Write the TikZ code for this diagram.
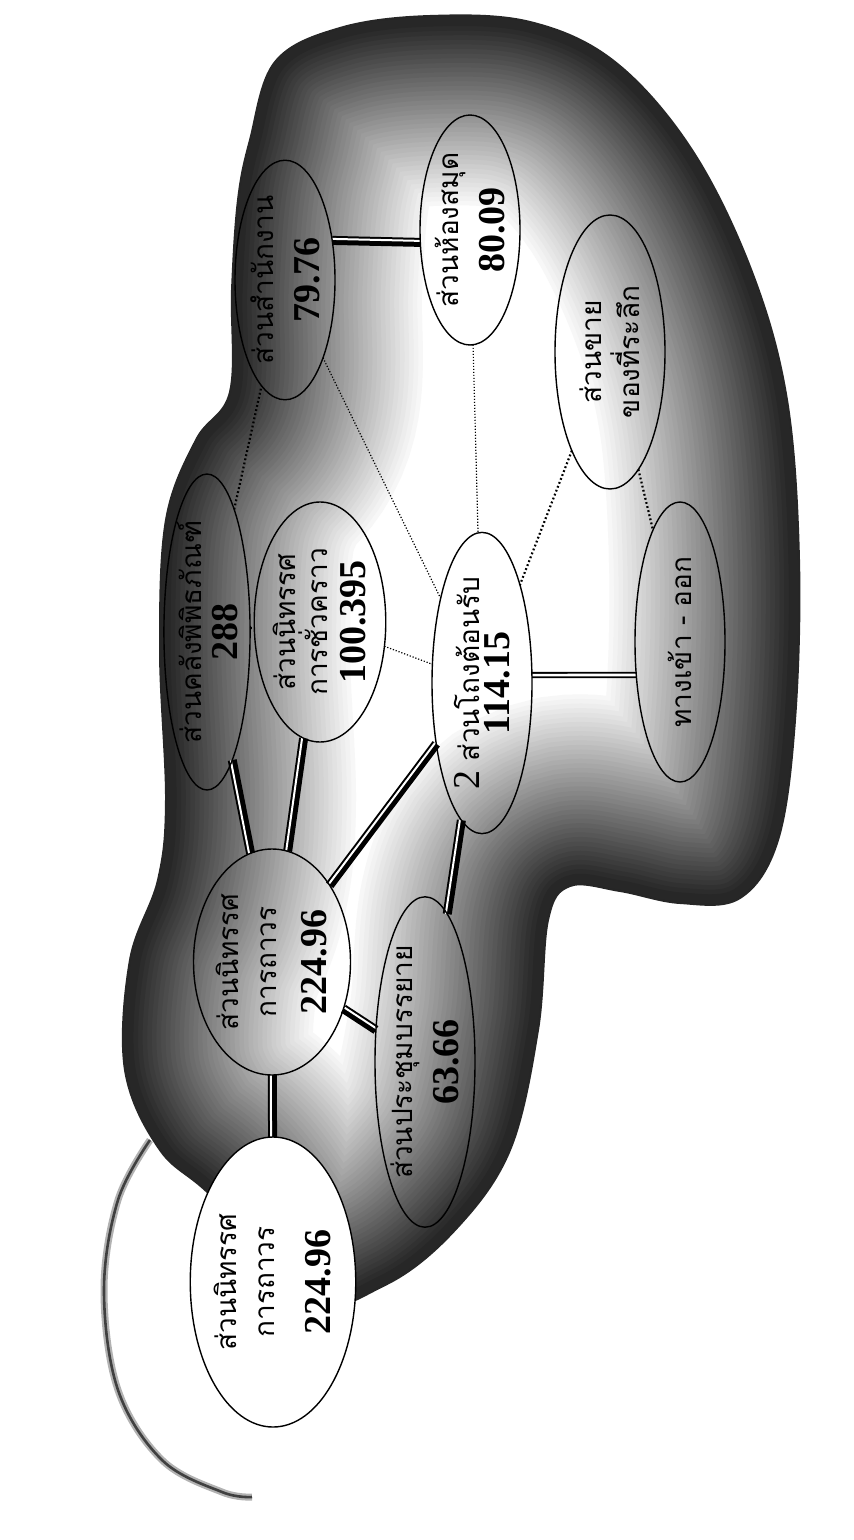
\documentclass[tikz,border=0pt]{standalone}
\usepackage{fontspec}
\setmainfont{Liberation Serif}
\newfontfamily\thai[Script=Thai]{Loma}
\newfontfamily\numf{Liberation Serif}
\usetikzlibrary{shapes.geometric,calc}
\pgfdeclarelayer{cloudl}
\pgfdeclarelayer{links}
\pgfsetlayers{cloudl,links,main}
\newcommand\cloudpath{plot[smooth cycle,tension=0.6] coordinates {(250,140) (275,62) (340,28) (430,16) (530,22) (615,62) (692,150) (752,272) (787,400) (799,560) (795,720) (778,840) (740,898) (680,903) (620,891) (570,886) (548,920) (538,1030) (510,1150) (455,1230) (385,1285) (300,1305) (215,1200) (160,1150) (125,1070) (130,960) (158,880) (166,800) (160,650) (166,520) (196,440) (230,392) (232,290) (238,200)}}
\newcommand\numb[1]{{\numf\bfseries\fontsize{19}{22}\selectfont #1}}
\newcommand\dbl[2]{\path (#1) -- (#2) coordinate[pos=0] (dA) coordinate[pos=1] (dB);
  \draw[line width=4.5pt] (dA) -- (dB);
  \draw[white,line width=1pt] ($(dA)!0.75pt!90:(dB)$) -- ($(dB)!0.75pt!-90:(dA)$);}
\begin{document}
\begin{tikzpicture}[x=0.5pt,y=-0.5pt,
  room/.style={ellipse, draw, line width=0.7pt, inner sep=0pt, outer sep=0pt, rotate=90, align=center,
    font=\thai\fontsize{14}{19}\selectfont},
  dots/.style={line width=1.1pt, dash pattern=on 0.9pt off 1.2pt},
  fdots/.style={line width=0.6pt, dash pattern=on 0.6pt off 0.9pt}]
\useasboundingbox (0,0) rectangle (854,1540);
% rooms
\node[room, fill=white, minimum width=145pt, minimum height=77pt] (A) at (273,1282) {ส่วนนิทรรศ\\การถาวร\\[9pt]\numb{224.96}};
\node[room, minimum width=113pt, minimum height=67pt] (B) at (272,962) {ส่วนนิทรรศ\\การถาวร\\[6pt]\numb{224.96}};
\node[room, minimum width=158pt, minimum height=42pt] (C) at (207,632) {ส่วนคลังพิพิธภัณฑ์\\[-1pt]\numb{288}};
\node[room, minimum width=120pt, minimum height=64pt, font=\thai\fontsize{14}{16}\selectfont] (D) at (320,622) {ส่วนนิทรรศ\\การชั่วคราว\\[3pt]\numb{100.395}};
\node[room, minimum width=138pt, minimum height=50pt] (E) at (482,683) {{\numf\fontsize{19}{22}\selectfont 2} ส่วนโถงต้อนรับ\\[-4pt]\numb{114.15}};
\node[room, minimum width=142pt, minimum height=50pt] (F) at (425,1062) {ส่วนประชุมบรรยาย\\[4pt]\numb{63.66}};
\node[room, minimum width=110pt, minimum height=50pt] (G) at (285,280) {ส่วนสำนักงาน\\[4pt]\numb{79.76}};
\node[room, minimum width=115pt, minimum height=50pt] (H) at (470,230) {ส่วนห้องสมุด\\[4pt]\numb{80.09}};
\node[room, minimum width=137pt, minimum height=55pt] (I) at (610,352) {ส่วนขาย\\ของที่ระลึก};
\node[room, minimum width=140pt, minimum height=45pt] (J) at (680,642) {ทางเข้า - ออก};
% links
\begin{pgfonlayer}{links}
\dbl{A}{B}
\dbl{B}{C}
\dbl{B}{D}
\dbl{B}{E}
\dbl{B}{F}
\dbl{F}{E}
\dbl{G.-50}{H.104}
\draw[line width=0.9pt, double=white, double distance=1.3pt] (E.-81) -- (J.127);
\draw[dots] (C) -- (G);
\draw[dots] (C) -- (D);
\draw[fdots] (D) -- (E);
\draw[fdots] (G) -- (E);
\draw[fdots] (H) -- (E);
\draw[dots] (I) -- (E);
\draw[dots] (I) -- (J);
\end{pgfonlayer}
% cloud
\begin{pgfonlayer}{cloudl}
\begin{scope}
  \clip \cloudpath;
  \fill[white] (0,0) rectangle (854,1540);
  \foreach \i in {0,...,39} {
    \pgfmathsetmacro\w{190-4.6*\i}
    \pgfmathsetmacro\c{3+2.1*\i}
    \draw[line width=\w pt, black!\c] \cloudpath;}
\end{scope}
\draw[line width=1pt, black!85] \cloudpath;
% crescent
\draw[line width=3.5pt, black!30] plot[smooth,tension=0.6] coordinates {(150,1140) (118,1200) (104,1290) (118,1390) (162,1460) (222,1492) (252,1497)};
\draw[line width=1.3pt, black!75] plot[smooth,tension=0.6] coordinates {(150,1140) (118,1200) (104,1290) (118,1390) (162,1460) (222,1492) (252,1497)};
\end{pgfonlayer}
\end{tikzpicture}
\end{document}
